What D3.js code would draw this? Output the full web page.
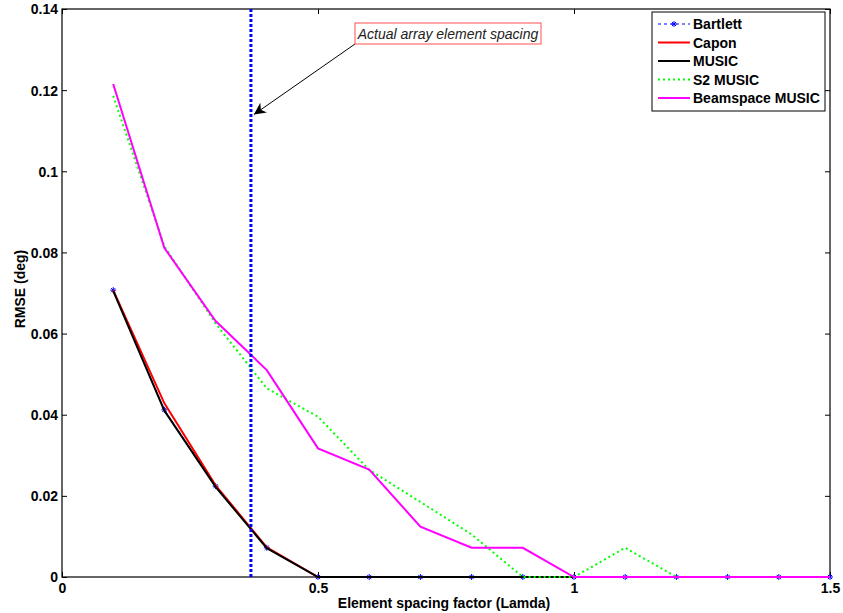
<!DOCTYPE html>
<html><head><meta charset="utf-8">
<script src="https://cdnjs.cloudflare.com/ajax/libs/d3/7.8.5/d3.min.js"></script>
<style>body{margin:0;background:#fff}svg{display:block;font-family:"Liberation Sans",Arial,sans-serif}</style>
</head><body><svg id="c" width="843" height="613"></svg>
<script>
const xs = [0.1,0.2,0.3,0.4,0.5,0.6,0.7,0.8,0.9,1.0,1.1,1.2,1.3,1.4,1.5];
const bartlett = [0.0707,0.0412,0.0224,0.0072,0,0,0,0,0,0,0,0,0,0,0];
const capon    = [0.0707,0.0428,0.0226,0.0073,0,0,0,0,0,0,0,0,0,0,0];
const music    = [0.0705,0.0410,0.0222,0.0071,0,0,0,0,0,0,0,0,0,0,0];
const s2music  = [0.1186,0.0815,0.0625,0.0465,0.0395,0.0264,0.0185,0.0105,0,0,0.0072,0,0,0,0];
const beamspace= [0.1215,0.0811,0.0631,0.0510,0.0317,0.0265,0.0124,0.0072,0.0072,0,0,0,0,0,0];
const xTicks = [0,0.5,1,1.5];
const yTicks = [0,0.02,0.04,0.06,0.08,0.1,0.12,0.14];
const actualSpacing = 0.369;
const legendNames = ["Bartlett","Capon","MUSIC","S2 MUSIC","Beamspace MUSIC"];

const svg = d3.select("#c");
const L=62,R=830,T=9,B=577;
const FS = 14;
const x = d3.scaleLinear().domain([0,1.5]).range([L,R]);
const y = d3.scaleLinear().domain([0,0.14]).range([B,T]);

// axes
const fmt = d=> d===0?"0":String(+d.toFixed(2));
const gx = svg.append("g").attr("transform",`translate(0,${B})`)
  .call(d3.axisBottom(x).tickValues(xTicks).tickSize(-5).tickPadding(3).tickFormat(d=>String(d)));
const gx2 = svg.append("g").attr("transform",`translate(0,${T})`)
  .call(d3.axisTop(x).tickValues(xTicks).tickSize(-5).tickFormat(""));
const gy = svg.append("g").attr("transform",`translate(${L},0)`)
  .call(d3.axisLeft(y).tickValues(yTicks).tickSize(-5).tickPadding(4).tickFormat(fmt));
const gy2 = svg.append("g").attr("transform",`translate(${R},0)`)
  .call(d3.axisRight(y).tickValues(yTicks).tickSize(-5).tickFormat(""));
[gx,gx2,gy,gy2].forEach(g=>{
  g.select(".domain").remove();
  g.selectAll("line").attr("stroke","#000").attr("stroke-width",1);
  g.selectAll("text").attr("font-size",FS).attr("font-weight","bold").attr("fill","#000")
   .attr("font-family","Liberation Sans, Arial, sans-serif");
});
gx.selectAll("text").attr("dy","0.9em");
gy.selectAll("text").attr("dy","0.35em");
svg.append("rect").attr("x",L).attr("y",T).attr("width",R-L).attr("height",B-T)
  .attr("fill","none").attr("stroke","#000").attr("stroke-width",1.2);

svg.append("text").attr("x",444).attr("y",608).attr("text-anchor","middle")
  .attr("font-size",FS).attr("font-weight","bold").text("Element spacing factor (Lamda)");
svg.append("text").attr("transform",`translate(25,289) rotate(-90)`).attr("text-anchor","middle")
  .attr("font-size",FS).attr("font-weight","bold").text("RMSE (deg)");

const line = d3.line().x((d,i)=>x(xs[i])).y(d=>y(d));
const series = [
  {v:bartlett,c:"#0000ff",w:1,dash:"3,3"},
  {v:capon,c:"#ff0000",w:2,dash:null},
  {v:music,c:"#000000",w:2,dash:null},
  {v:s2music,c:"#00ff00",w:2,dash:"2,3"},
  {v:beamspace,c:"#ff00ff",w:2,dash:null}
];
const star = (g,cx,cy,s)=>{
  const p = `M${cx-s},${cy}L${cx+s},${cy}M${cx},${cy-s}L${cx},${cy+s}M${cx-s*0.7},${cy-s*0.7}L${cx+s*0.7},${cy+s*0.7}M${cx-s*0.7},${cy+s*0.7}L${cx+s*0.7},${cy-s*0.7}`;
  g.append("path").attr("d",p).attr("stroke","#0000ff").attr("stroke-width",1).attr("fill","none");
};
series.forEach((s,k)=>{
  svg.append("path").datum(s.v).attr("d",line).attr("fill","none")
    .attr("stroke",s.c).attr("stroke-width",s.w).attr("stroke-dasharray",s.dash);
  if(k===0){ const g=svg.append("g"); s.v.forEach((d,i)=>star(g,x(xs[i]),y(d),3)); }
});

// vertical actual spacing line
svg.append("line").attr("x1",x(actualSpacing)).attr("x2",x(actualSpacing)).attr("y1",T).attr("y2",B)
  .attr("stroke","#0000ff").attr("stroke-width",3).attr("stroke-dasharray","3,2");

// annotation
svg.append("defs").append("marker").attr("id","ah").attr("viewBox","0 0 10 10").attr("refX",10).attr("refY",5)
  .attr("markerWidth",12).attr("markerHeight",12).attr("markerUnits","userSpaceOnUse").attr("orient","auto")
  .append("path").attr("d","M0,0L10,5L0,10L3,5Z").attr("fill","#000");
svg.append("line").attr("x1",355).attr("y1",44).attr("x2",x(actualSpacing)+3).attr("y2",y(0.114))
  .attr("stroke","#000").attr("stroke-width",1).attr("marker-end","url(#ah)");
svg.append("rect").attr("x",355).attr("y",23).attr("width",186).attr("height",21)
  .attr("fill","#fff").attr("stroke","#ff5050").attr("stroke-width",1);
svg.append("text").attr("x",448).attr("y",39).attr("text-anchor","middle").attr("font-size",FS)
  .attr("font-style","italic").attr("fill","#222").text("Actual array element spacing");

// legend
const lg = svg.append("g");
lg.append("rect").attr("x",652).attr("y",12).attr("width",173).attr("height",99)
  .attr("fill","#fff").attr("stroke","#000").attr("stroke-width",1);
legendNames.forEach((n,i)=>{
  const yy = 24 + i*18.5, s = series[i];
  lg.append("line").attr("x1",658).attr("x2",690).attr("y1",yy).attr("y2",yy)
    .attr("stroke",s.c).attr("stroke-width",s.w).attr("stroke-dasharray",s.dash);
  if(i===0) star(lg,674,yy,3);
  lg.append("text").attr("x",693).attr("y",yy+5).attr("font-size",FS).attr("font-weight","bold").text(n);
});
</script></body></html>
